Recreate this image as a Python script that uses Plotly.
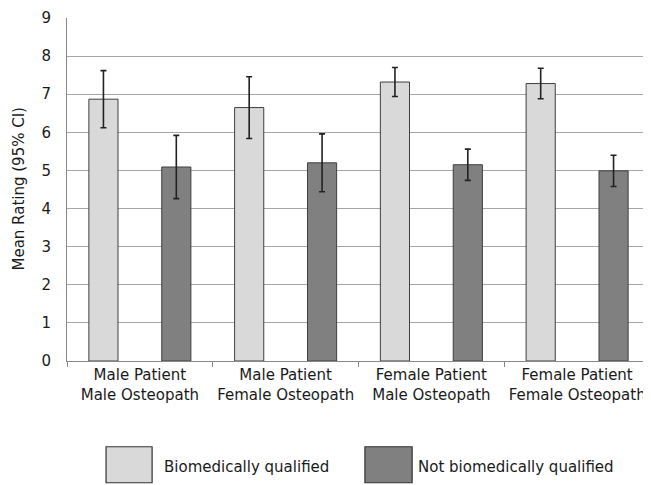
import plotly.graph_objects as go

categories = ["Male Patient<br>Male Osteopath", "Male Patient<br>Female Osteopath",
              "Female Patient<br>Male Osteopath", "Female Patient<br>Female Osteopath"]
bio_values = [6.87, 6.65, 7.32, 7.28]
bio_err = [0.75, 0.81, 0.38, 0.40]
notbio_values = [5.09, 5.20, 5.15, 4.99]
notbio_err = [0.83, 0.76, 0.41, 0.41]
series_names = ["Biomedically qualified", "Not biomedically qualified"]
y_ticks = list(range(0, 10))
y_title = "Mean Rating (95% CI)"

light = "#d9d9d9"
dark = "#808080"
outline = "#3f3f3f"
font = "DejaVu Sans"
txt = "#1a1a1a"

fig = go.Figure()
fig.add_trace(go.Bar(x=categories, y=bio_values, name=series_names[0],
                     marker=dict(color=light, line=dict(color=outline, width=1)),
                     error_y=dict(type="data", array=bio_err, color="#222222", thickness=1.6, width=3)))
fig.add_trace(go.Bar(x=categories, y=notbio_values, name=series_names[1],
                     marker=dict(color=dark, line=dict(color=outline, width=1)),
                     error_y=dict(type="data", array=notbio_err, color="#222222", thickness=1.6, width=3)))

# legend (large swatches)
legend_items = [(0.067, 0.146, light, 0.163, series_names[0]),
                (0.511, 0.592, dark, 0.599, series_names[1])]
for x0, x1, col, tx, name in legend_items:
    fig.add_shape(type="rect", xref="paper", yref="paper", x0=x0, x1=x1, y0=-0.355, y1=-0.25,
                  fillcolor=col, line=dict(color="#333333", width=1.2))
    fig.add_annotation(xref="paper", yref="paper", x=tx, y=-0.31, text=name, showarrow=False,
                       xanchor="left", yanchor="middle", font=dict(family=font, size=15, color=txt))

# y-axis title
fig.add_annotation(xref="paper", yref="paper", x=-0.084, y=0.5, text=y_title, textangle=-90,
                   showarrow=False, xanchor="center", yanchor="middle",
                   font=dict(family=font, size=15, color=txt))

# page body has an 8px default margin, so the figure is sized to fill the 651x485 window
fig.update_layout(
    width=643, height=477,
    margin=dict(l=59, r=1, t=10, b=124),
    paper_bgcolor="white", plot_bgcolor="white",
    barmode="group", bargap=0.0, bargroupgap=0.6,
    showlegend=False,
    font=dict(family=font, size=15, color=txt),
)
fig.update_xaxes(showline=True, linecolor="#888888", linewidth=1, automargin=False, tickangle=0,
                 ticks="outside", tickson="boundaries", ticklen=5, tickcolor="#888888",
                 tickfont=dict(family=font, size=15, color=txt), showgrid=False)
fig.update_yaxes(range=[0, 9], tickvals=y_ticks, showline=True, linecolor="#888888", linewidth=1,
                 showgrid=True, gridcolor="#a6a6a6", gridwidth=1, zeroline=False, automargin=False,
                 ticks="", ticklabelstandoff=12, tickfont=dict(family=font, size=15, color=txt))

fig.write_html("out.html")
